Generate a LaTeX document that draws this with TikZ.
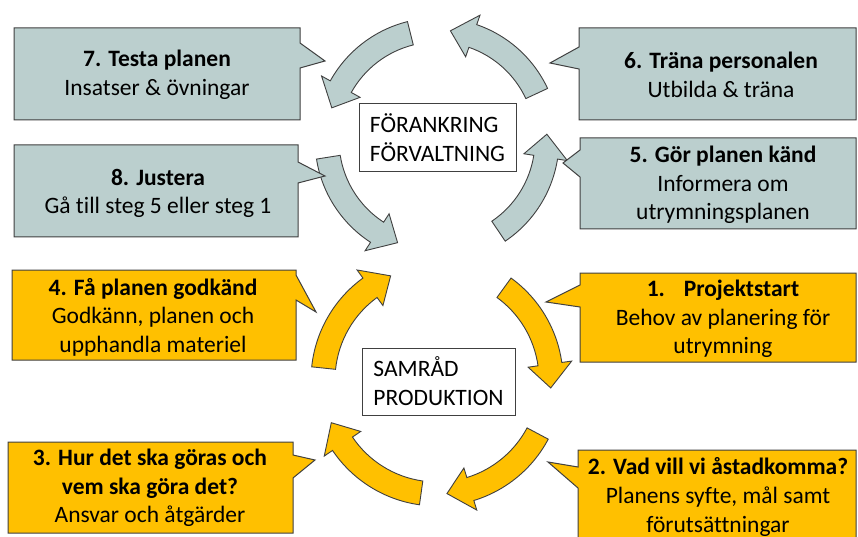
\documentclass[tikz,border=0pt]{standalone}
\usepackage{fontspec}
\setmainfont{Carlito}[Ligatures=CommonOff]
\usetikzlibrary{calc}
\definecolor{greyfill}{HTML}{BBCFCE}
\definecolor{goldfill}{HTML}{FFC000}
\definecolor{edgecol}{HTML}{404040}
\tikzset{
  greybox/.style={draw=edgecol, line width=1pt, fill=greyfill, line join=miter},
  goldbox/.style={draw=edgecol, line width=1pt, fill=goldfill, line join=miter},
  greyarrow/.style={draw=edgecol, line width=0.9pt, fill=greyfill, line join=miter},
  goldarrow/.style={draw=edgecol, line width=0.9pt, fill=goldfill, line join=miter},
  boxtext/.style={align=center, inner sep=0pt, font=\fontsize{23.5}{28.5}\selectfont},
  centerbox/.style={draw=edgecol, line width=1pt, fill=white, align=left, inner sep=0pt,
    font=\fontsize{23.5}{29}\selectfont},
}
\newcommand{\cycarrow}[5]{%
  \pgfmathsetmacro{\ha}{(#4>#3) ? (#4-12) : (#4+12)}%
  \pgfmathsetmacro{\ro}{#2+12}%
  \pgfmathsetmacro{\ri}{#2-12}%
  \pgfmathsetmacro{\hwo}{#2+22}%
  \pgfmathsetmacro{\hwi}{#2-22}%
  \draw[#5] ($#1+(#3:\ro pt)$) arc[start angle=#3, end angle=\ha, radius=\ro pt]
    -- ($#1+(\ha:\hwo pt)$) -- ($#1+(#4:#2 pt)$) -- ($#1+(\ha:\hwi pt)$)
    -- ($#1+(\ha:\ri pt)$) arc[start angle=\ha, end angle=#3, radius=\ri pt] -- cycle;
}
\begin{document}
\begin{tikzpicture}[x=1pt,y=1pt]
\clip (0,0) rectangle (858,536);
\fill[white] (0,0) rectangle (858,536);

% grey cycle
\coordinate (gc) at (437,396);
\cycarrow{(gc)}{110}{-56}{3}{greyarrow}
\cycarrow{(gc)}{110}{25}{83}{greyarrow}
\cycarrow{(gc)}{110}{104}{163}{greyarrow}
\cycarrow{(gc)}{110}{189}{249}{greyarrow}

% gold cycle
\coordinate (oc) at (437,156);
\cycarrow{(oc)}{114}{54}{-4}{goldarrow}
\cycarrow{(oc)}{114}{-28}{-85}{goldarrow}
\cycarrow{(oc)}{114}{-98}{-158}{goldarrow}
\cycarrow{(oc)}{114}{-186}{-246}{goldarrow}

% callout boxes
\draw[greybox] (14,508) -- (300,508) -- (300,493) -- (325,475) -- (300,468) -- (300,416) -- (14,416) -- cycle;
\draw[greybox] (579,508) -- (856,508) -- (856,416) -- (579,416) -- (579,467) -- (550,473) -- (579,489) -- cycle;
\draw[greybox] (14,391) -- (298,391) -- (298,374) -- (325,360) -- (298,353) -- (298,299) -- (14,299) -- cycle;
\draw[greybox] (580,398) -- (856,398) -- (856,307) -- (580,307) -- (580,359) -- (563,373) -- (580,386) -- cycle;
\draw[goldbox] (12,266) -- (296,266) -- (296,261) -- (316,224) -- (296,236) -- (296,176) -- (12,176) -- cycle;
\draw[goldbox] (580,263) -- (856,263) -- (856,174) -- (580,174) -- (580,229) -- (546,234) -- (580,251) -- cycle;
\draw[goldbox] (8,94) -- (293,94) -- (293,81) -- (315,76) -- (293,58) -- (293,3) -- (8,3) -- cycle;
\draw[goldbox] (578,86) -- (856,86) -- (856,-5) -- (578,-5) -- (578,48) -- (548,74) -- (578,69) -- cycle;

% texts
\node[boxtext] (t7) at (157,461) {\textbf{7. Testa planen}\\Insatser \& övningar};
\node[boxtext] (t6) at (721,461) {\textbf{6. Träna personalen}\\Utbilda \& träna};
\node[boxtext] (t8) at (158,342.5) {\textbf{8. Justera}\\Gå till steg 5 eller steg 1};
\node[boxtext] (t5) at (723,351) {\textbf{5. Gör planen känd}\\Informera om\\utrymningsplanen};
\node[boxtext] (t4) at (153,219) {\textbf{4. Få planen godkänd}\\Godkänn, planen och\\upphandla materiel};
\node[boxtext] (t1) at (723,217) {\textbf{1.\hspace{0.8em}Projektstart}\\Behov av planering för\\utrymning};
\node[boxtext] (t3) at (150,48) {\textbf{3. Hur det ska göras och}\\\textbf{vem ska göra det?}\\Ansvar och åtgärder};
\node[boxtext] (t2) at (718,39) {\textbf{2. Vad vill vi åstadkomma?}\\Planens syfte, mål samt\\förutsättningar};

% center boxes
\node[centerbox, minimum width=157pt, minimum height=68pt] (fk) at (437.5,398) {FÖRANKRING\\FÖRVALTNING};
\node[centerbox, minimum width=153pt, minimum height=67pt] (sp) at (438.5,154.5) {SAMRÅD\\PRODUKTION};
\end{tikzpicture}
\end{document}
